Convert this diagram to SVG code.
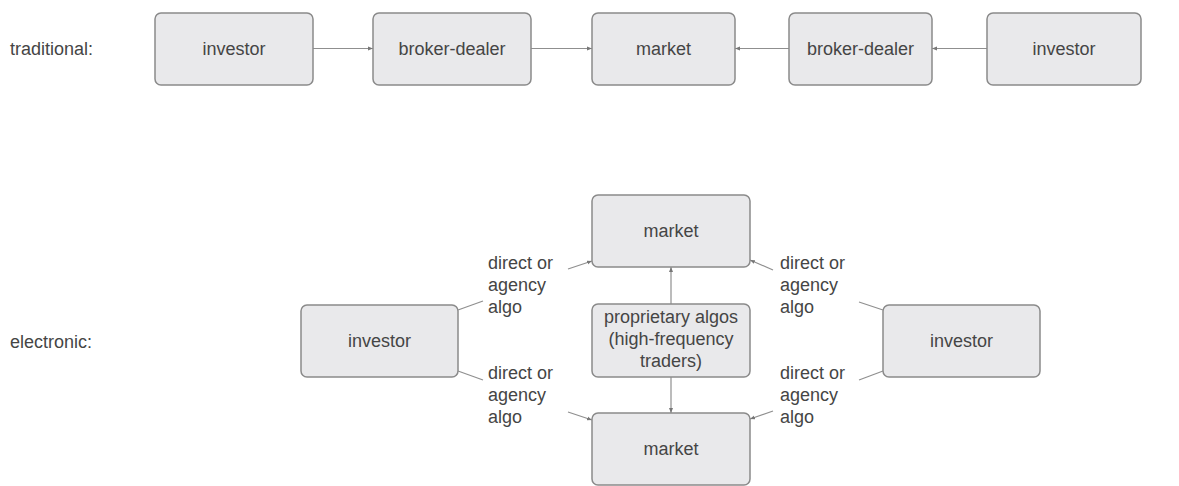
<svg xmlns="http://www.w3.org/2000/svg" width="1179" height="486" viewBox="0 0 1179 486">
<style>
.box{fill:#e9e9eb;stroke:#8a8a8a;stroke-width:1.5}
.t{font-family:"Liberation Sans",Arial,sans-serif;font-size:18px;fill:#454545}
.c{text-anchor:middle}
.ln{stroke:#8f8f8f;stroke-width:1.2;fill:none}
.ar{marker-end:url(#ah)}
</style>
<defs>
<marker id="ah" viewBox="0 0 10 10" refX="10" refY="5" markerWidth="5" markerHeight="5" orient="auto" markerUnits="userSpaceOnUse">
<path d="M0,1 L10,5 L0,9 Z" fill="#777"/>
</marker>
</defs>
<rect width="1179" height="486" fill="#ffffff"/>
<text class="t" x="10" y="55">traditional:</text>
<text class="t" x="10" y="348">electronic:</text>
<g id="connectors">
<line class="ln ar" x1="313" y1="48.5" x2="373" y2="48.5"/>
<line class="ln ar" x1="531" y1="48.5" x2="592" y2="48.5"/>
<line class="ln ar" x1="789" y1="48.5" x2="735" y2="48.5"/>
<line class="ln ar" x1="987" y1="48.5" x2="932" y2="48.5"/>
<line class="ln ar" x1="671" y1="304" x2="671" y2="267"/>
<line class="ln ar" x1="671" y1="377" x2="671" y2="413"/>
<line class="ln" x1="458" y1="310" x2="483" y2="301"/>
<line class="ln ar" x1="568" y1="269" x2="592" y2="261"/>
<line class="ln" x1="458" y1="371" x2="483" y2="380"/>
<line class="ln ar" x1="568" y1="412" x2="592" y2="420"/>
<line class="ln" x1="883" y1="310" x2="859" y2="302"/>
<line class="ln ar" x1="773" y1="270" x2="750" y2="260"/>
<line class="ln" x1="883" y1="371" x2="859" y2="380"/>
<line class="ln ar" x1="773" y1="411" x2="750" y2="419"/>
</g>
<g id="labels">
<text class="t" x="488" y="269">direct or</text>
<text class="t" x="488" y="291">agency</text>
<text class="t" x="488" y="313">algo</text>
<text class="t" x="488" y="379">direct or</text>
<text class="t" x="488" y="401">agency</text>
<text class="t" x="488" y="423">algo</text>
<text class="t" x="780" y="269">direct or</text>
<text class="t" x="780" y="291">agency</text>
<text class="t" x="780" y="313">algo</text>
<text class="t" x="780" y="379">direct or</text>
<text class="t" x="780" y="401">agency</text>
<text class="t" x="780" y="423">algo</text>
</g>
<g id="t-investor1"><rect class="box" x="155" y="13" width="158" height="72" rx="6"/><text class="t c" x="234" y="55">investor</text></g>
<g id="t-broker1"><rect class="box" x="373" y="13" width="158" height="72" rx="6"/><text class="t c" x="452" y="55">broker-dealer</text></g>
<g id="t-market"><rect class="box" x="592" y="13" width="143" height="72" rx="6"/><text class="t c" x="663.5" y="55">market</text></g>
<g id="t-broker2"><rect class="box" x="789" y="13" width="143" height="72" rx="6"/><text class="t c" x="860.5" y="55">broker-dealer</text></g>
<g id="t-investor2"><rect class="box" x="987" y="13" width="154" height="72" rx="6"/><text class="t c" x="1064" y="55">investor</text></g>
<g id="e-market-top"><rect class="box" x="592" y="195" width="158" height="72" rx="6"/><text class="t c" x="671" y="237">market</text></g>
<g id="e-prop"><rect class="box" x="592" y="304" width="158" height="73" rx="6"/><text class="t c" x="671" y="323">proprietary algos</text><text class="t c" x="671" y="345">(high-frequency</text><text class="t c" x="671" y="367">traders)</text></g>
<g id="e-market-bottom"><rect class="box" x="592" y="413" width="158" height="72" rx="6"/><text class="t c" x="671" y="455">market</text></g>
<g id="e-investor-left"><rect class="box" x="301" y="305" width="157" height="72" rx="6"/><text class="t c" x="379.5" y="347">investor</text></g>
<g id="e-investor-right"><rect class="box" x="883" y="305" width="157" height="72" rx="6"/><text class="t c" x="961.5" y="347">investor</text></g>
</svg>
